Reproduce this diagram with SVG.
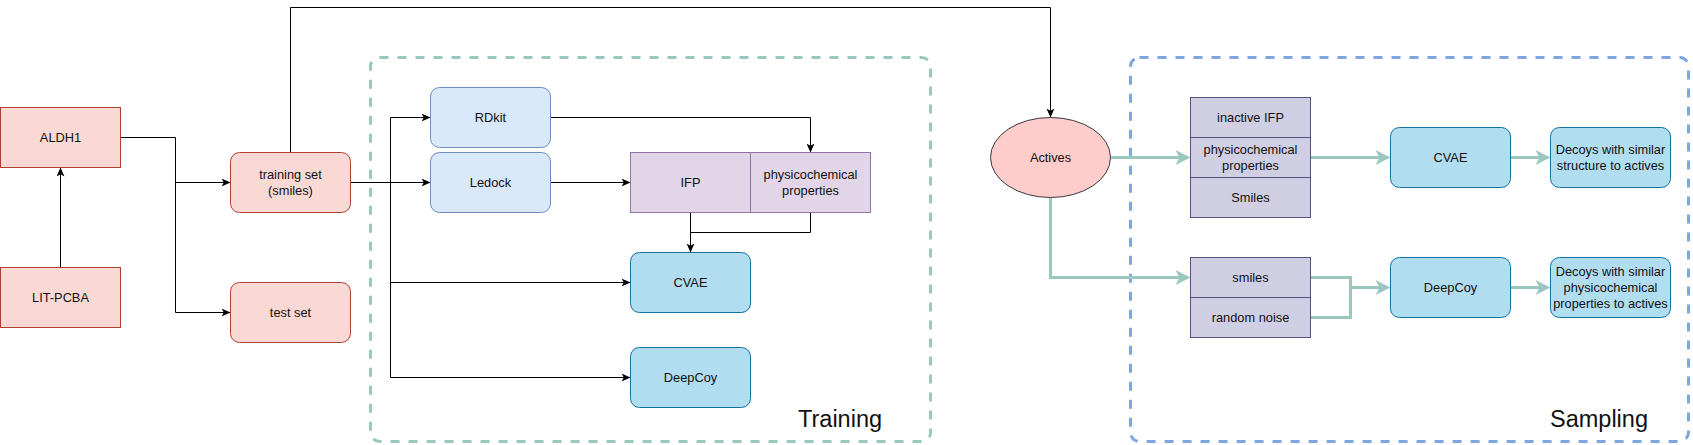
<svg xmlns="http://www.w3.org/2000/svg" width="1693" height="445" viewBox="0 0 1693 445">
<style>
text{font-family:"Liberation Sans",Arial,sans-serif;font-size:12.8px;fill:#111;text-anchor:middle}
.big{font-size:23.5px;text-anchor:start}
.pink{fill:#FAD9D5;stroke:#AE4132;stroke-width:1}
.lblue{fill:#DAE8FC;stroke:#6C8EBF;stroke-width:1}
.purp{fill:#E1D5E7;stroke:#9673A6;stroke-width:1}
.cyan{fill:#B1DDF0;stroke:#10739E;stroke-width:1}
.stack{fill:#D0CEE2;stroke:#56517E;stroke-width:1}
.act{fill:#FFCCCC;stroke:#36393D;stroke-width:1}
.blk{fill:none;stroke:#000;stroke-width:1}
.grn{fill:none;stroke:#9AC7BF;stroke-width:3}
.dash{fill:none;stroke-width:3;stroke-dasharray:9 9}
</style>
<defs>
<marker id="ab" markerUnits="userSpaceOnUse" markerWidth="9" markerHeight="8" viewBox="0 0 9 8" refX="9" refY="4" orient="auto">
<path d="M0,0 L9,4 L0,8 L2.3,4 z" fill="#000"/>
</marker>
<marker id="ag" markerUnits="userSpaceOnUse" markerWidth="15" markerHeight="15" viewBox="0 0 15 15" refX="5" refY="7.5" orient="auto">
<path d="M0,0 L15,7.5 L0,15 L4,7.5 z" fill="#9AC7BF"/>
</marker>
</defs>

<g id="training-group">
<rect class="dash" x="370.5" y="57.5" width="560" height="384" rx="9" stroke="#9AC7BF"/>
<text class="big" x="798" y="427">Training</text>
</g>
<g id="sampling-group">
<rect class="dash" x="1130.5" y="57.5" width="558" height="384" rx="9" stroke="#7EA6E0"/>
<text class="big" x="1550" y="427">Sampling</text>
</g>

<g id="connectors">
<path class="blk" d="M60.5,267.5 V167.5" marker-end="url(#ab)"/>
<path class="blk" d="M120.5,137.5 H175.5 V312.5 H230.5" marker-end="url(#ab)"/>
<path class="blk" d="M175.5,182.5 H230.5" marker-end="url(#ab)"/>
<path class="blk" d="M350.5,182.5 H430.5" marker-end="url(#ab)"/>
<path class="blk" d="M390.5,117.5 V377.5"/>
<path class="blk" d="M390.5,117.5 H430.5" marker-end="url(#ab)"/>
<path class="blk" d="M390.5,282.5 H630.5" marker-end="url(#ab)"/>
<path class="blk" d="M390.5,377.5 H630.5" marker-end="url(#ab)"/>
<path class="blk" d="M550.5,182.5 H630.5" marker-end="url(#ab)"/>
<path class="blk" d="M550.5,117.5 H810.5 V152.5" marker-end="url(#ab)"/>
<path class="blk" d="M690.5,212.5 V252.5" marker-end="url(#ab)"/>
<path class="blk" d="M810.5,212.5 V232.5 H690.5"/>
<path class="blk" d="M290.5,152.5 V7.5 H1050.5 V117.5" marker-end="url(#ab)"/>
<path class="grn" d="M1110.5,157.5 H1180.5" marker-end="url(#ag)"/>
<path class="grn" d="M1310.5,157.5 H1380.5" marker-end="url(#ag)"/>
<path class="grn" d="M1510.5,157.5 H1540.5" marker-end="url(#ag)"/>
<path class="grn" d="M1050.5,197.5 V277.5 H1180.5" marker-end="url(#ag)"/>
<path class="grn" d="M1310.5,277.5 H1350.5 V317.5 H1310.5"/>
<path class="grn" d="M1350.5,287.5 H1380.5" marker-end="url(#ag)"/>
<path class="grn" d="M1510.5,287.5 H1540.5" marker-end="url(#ag)"/>
</g>

<g id="aldh1"><rect class="pink" x="0.5" y="107.5" width="120" height="60"/><text x="60.5" y="142">ALDH1</text></g>
<g id="lit-pcba"><rect class="pink" x="0.5" y="267.5" width="120" height="60"/><text x="60.5" y="302">LIT-PCBA</text></g>
<g id="training-set"><rect class="pink" x="230.5" y="152.5" width="120" height="60" rx="9"/><text x="290.5" y="179">training set</text><text x="290.5" y="194.6">(smiles)</text></g>
<g id="test-set"><rect class="pink" x="230.5" y="282.5" width="120" height="60" rx="9"/><text x="290.5" y="317">test set</text></g>

<g id="rdkit"><rect class="lblue" x="430.5" y="87.5" width="120" height="60" rx="9"/><text x="490.5" y="122">RDkit</text></g>
<g id="ledock"><rect class="lblue" x="430.5" y="152.5" width="120" height="60" rx="9"/><text x="490.5" y="187">Ledock</text></g>
<g id="ifp"><rect class="purp" x="630.5" y="152.5" width="120" height="60"/><text x="690.5" y="187">IFP</text></g>
<g id="physchem"><rect class="purp" x="750.5" y="152.5" width="120" height="60"/><text x="810.5" y="179">physicochemical</text><text x="810.5" y="194.6">properties</text></g>
<g id="cvae-train"><rect class="cyan" x="630.5" y="252.5" width="120" height="60" rx="9"/><text x="690.5" y="287">CVAE</text></g>
<g id="deepcoy-train"><rect class="cyan" x="630.5" y="347.5" width="120" height="60" rx="9"/><text x="690.5" y="382">DeepCoy</text></g>

<g id="actives"><ellipse class="act" cx="1050.5" cy="157.5" rx="60" ry="40"/><text x="1050.5" y="162">Actives</text></g>

<g id="sampling-inputs-1">
<rect class="stack" x="1190.5" y="97.5" width="120" height="40"/><text x="1250.5" y="122">inactive IFP</text>
<rect class="stack" x="1190.5" y="137.5" width="120" height="40"/><text x="1250.5" y="154.2">physicochemical</text><text x="1250.5" y="169.8">properties</text>
<rect class="stack" x="1190.5" y="177.5" width="120" height="40"/><text x="1250.5" y="202">Smiles</text>
</g>
<g id="sampling-inputs-2">
<rect class="stack" x="1190.5" y="257.5" width="120" height="40"/><text x="1250.5" y="282">smiles</text>
<rect class="stack" x="1190.5" y="297.5" width="120" height="40"/><text x="1250.5" y="322">random noise</text>
</g>
<g id="cvae-sample"><rect class="cyan" x="1390.5" y="127.5" width="120" height="60" rx="9"/><text x="1450.5" y="162">CVAE</text></g>
<g id="deepcoy-sample"><rect class="cyan" x="1390.5" y="257.5" width="120" height="60" rx="9"/><text x="1450.5" y="292">DeepCoy</text></g>
<g id="decoys-structure"><rect class="cyan" x="1550.5" y="127.5" width="120" height="60" rx="9"/><text x="1610.5" y="154.2">Decoys with similar</text><text x="1610.5" y="169.8">structure to actives</text></g>
<g id="decoys-physchem"><rect class="cyan" x="1550.5" y="257.5" width="120" height="60" rx="9"/><text x="1610.5" y="276.4">Decoys with similar</text><text x="1610.5" y="292">physicochemical</text><text x="1610.5" y="307.6">properties to actives</text></g>
</svg>
